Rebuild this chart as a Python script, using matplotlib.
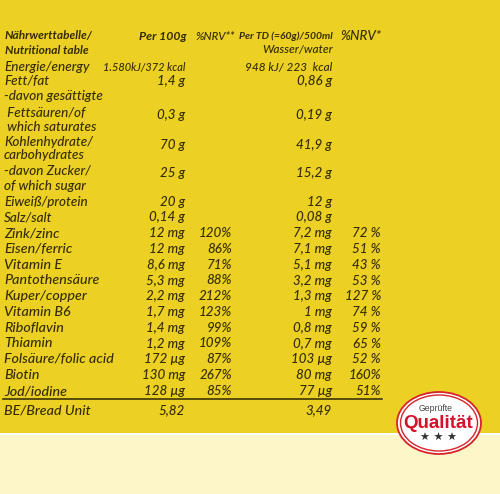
import matplotlib
matplotlib.use("Agg")
import matplotlib.pyplot as plt
from matplotlib.patches import Ellipse, Rectangle

names_top = [("Energie/energy", 67), ("Fett/fat", 81), ("-davon gesättigte", 96), (" Fettsäuren/of", 113),
             (" which saturates", 127), ("Kohlenhydrate/", 142), ("carbohydrates", 155), ("-davon Zucker/", 170),
             ("of which sugar", 186), ("Eiweiß/protein", 202), ("Salz/salt", 217)]
names_low = [("Zink/zinc", 233), ("Eisen/ferric", 249), ("Vitamin E", 265), ("Pantothensäure", 280),
             ("Kuper/copper", 296), ("Vitamin B6", 312), ("Riboflavin", 328), ("Thiamin", 343),
             ("Folsäure/folic acid", 359), ("Biotin", 375), ("Jod/iodine", 391), ("BE/Bread Unit", 410)]
energy100 = ("1.580kJ/372 kcal", 67)
energyTD = ("948 kJ/ 223  kcal", 67)
per100 = [("1,4 g", 81), ("0,3 g", 115), ("70 g", 145), ("25 g", 173), ("20 g", 202),
          ("0,14 g", 217), ("12 mg", 233), ("12 mg", 249), ("8,6 mg", 265), ("5,3 mg", 281), ("2,2 mg", 296),
          ("1,7 mg", 312), ("1,4 mg", 328), ("1,2 mg", 344), ("172 µg", 359), ("130 mg", 375), ("128 µg", 391), ("5,82", 410)]
nrv100 = [("120%", 233), ("86%", 249), ("71%", 265), ("88%", 280), ("212%", 296), ("123%", 312),
          ("99%", 328), ("109%", 343), ("87%", 359), ("267%", 375), ("85%", 391)]
perTD = [("0,86 g", 81), ("0,19 g", 115), ("41,9 g", 145), ("15,2 g", 173), ("12 g", 202),
         ("0,08 g", 217), ("7,2 mg", 233), ("7,1 mg", 249), ("5,1 mg", 265), ("3,2 mg", 281), ("1,3 mg", 296),
         ("1 mg", 312), ("0,8 mg", 328), ("0,7 mg", 344), ("103 µg", 359), ("80 mg", 375), ("77 µg", 391), ("3,49", 410)]
nrvTD = [("72 %", 233), ("51 %", 249), ("43 %", 265), ("53 %", 281), ("127 %", 296), ("74 %", 312),
         ("59 %", 328), ("65 %", 344), ("52 %", 359), ("160%", 375), ("51%", 391)]

INK = "#352d00"
fig = plt.figure(figsize=(5, 4.94), dpi=100)
ax = fig.add_axes([0, 0, 1, 1])
ax.set_xlim(0, 500); ax.set_ylim(494, 0); ax.axis("off")
ax.add_patch(Rectangle((0, 0), 500, 433, color="#ECD024", lw=0))
ax.add_patch(Rectangle((0, 433), 500, 2, color="#FFFFFF", lw=0))
ax.add_patch(Rectangle((0, 435), 500, 59, color="#FDF6C8", lw=0))

def t(x, y, s, ha="left", size=9.6, **kw):
    ax.text(x, y, s, ha=ha, va="center", fontsize=size, family="Lato", style="italic",
            color=INK, weight=kw.pop("weight", "medium"), **kw)

t(5, 36, "Nährwerttabelle/", size=8.6, weight="bold")
t(5, 50, "Nutritional table", size=8.6, weight="bold")
t(187, 36, "Per 100g", ha="right", size=8.8, weight="bold")
t(196, 36, "%NRV**", size=8.2)
t(333, 36, "Per TD (=60g)/500ml", ha="right", size=7.5, weight="bold")
t(333, 50, "Wasser/water", ha="right", size=8.6)
t(340, 36, "%NRV*", size=9.6)
for s, y in names_top:
    t(4, y, s, size=9.7)
for s, y in names_low:
    t(4, y, s, size=10.3)
t(185, energy100[1], energy100[0], ha="right", size=7.9)
t(332, energyTD[1], energyTD[0], ha="right", size=8.5)
for s, y in per100:
    t(185, y, s, ha="right")
for s, y in nrv100:
    t(232, y, s, ha="right")
for s, y in perTD:
    t(332, y, s, ha="right")
for s, y in nrvTD:
    t(381, y, s, ha="right")
ax.plot([3, 382], [399, 399], color="#2f2800", lw=1.1)

ax.add_patch(Ellipse((439, 423), 84, 62, fc="white", ec="#D8232A", lw=1.3, zorder=3))
ax.add_patch(Ellipse((439, 423), 77, 56, fc="white", ec="#D8232A", lw=1.0, zorder=3))
ax.text(436, 408, "Geprüfte", ha="center", va="center", fontsize=6.2, color="#444444", family="Liberation Sans", zorder=4)
ax.text(438, 423, "Qualität", ha="center", va="center", fontsize=13.5, color="#D5122B", weight="bold", family="Liberation Sans", zorder=4)
ax.text(438, 438, "★ ★ ★", ha="center", va="center", fontsize=8, color="#333333", family="DejaVu Sans", zorder=4)
fig.savefig("out.png", dpi=100)
